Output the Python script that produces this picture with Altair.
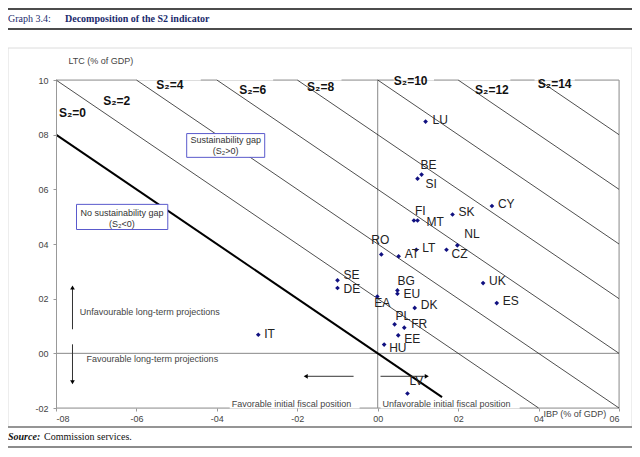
import altair as alt
import pandas as pd

# ---------------- data ----------------
countries = ["LU", "BE", "SI", "CY", "SK", "FI", "MT", "NL", "RO", "AT", "LT", "CZ", "SE",
             "DE", "UK", "ES", "BG", "EU", "EA", "DK", "PL", "FR", "EE", "HU", "LV", "IT"]
ibp = [1.19, 1.09, 0.99, 2.84, 1.86, 0.90, 0.99, 1.98, 0.09, 0.52, 0.96, 1.71, -1.0,
       -1.0, 2.62, 2.96, 0.49, 0.49, -0.01, 0.92, 0.42, 0.66, 0.51, 0.16, 0.74, -2.97]
ltc = [8.48, 6.54, 6.39, 5.39, 5.08, 4.86, 4.86, 3.95, 3.62, 3.55, 3.79, 3.79, 2.67,
       2.39, 2.57, 1.84, 2.30, 2.18, 2.08, 1.66, 1.06, 0.94, 0.66, 0.32, -1.47, 0.68]

# label offsets in pixels (left edge of text, vertical centre) relative to the point
label_offsets = {
    "LU": (7, -2), "BE": (-1, -10), "SI": (8, 5), "CY": (6, -2), "SK": (6, -2),
    "FI": (1, -9), "MT": (9, 2), "NL": (7, -11), "RO": (-10, -14), "AT": (6, -2),
    "LT": (6, -2), "CZ": (5, 4), "SE": (6, -5), "DE": (6, 1), "UK": (6, -2),
    "ES": (6, -2), "BG": (0, -9), "EU": (6, 0), "EA": (-3, 7), "DK": (6, -3),
    "PL": (1, -8), "FR": (7, -4), "EE": (6, 4), "HU": (5, 3), "LV": (2, -13),
    "IT": (6, -1),
}

# iso-S2 lines: IBP + LTC = S2
s2_levels = [2, 4, 6, 8, 10, 12, 14]
s2_zero_end = 1.6          # bold S2=0 line stops here on the x axis
x_min, x_max = -8, 6
y_min, y_max = -2, 10

s2_label_levels = [0, 2, 4, 6, 8, 10, 12, 14]
s2_label_x = [-7.59, -6.49, -5.17, -3.11, -1.42, 0.82, 2.84, 4.40]
s2_label_y = [8.78, 9.25, 9.80, 9.65, 9.73, 9.95, 9.62, 9.84]

top_segments = [(-8, -6), (-4.4, -4), (-2.6, -2), (-0.9, 0.4), (1.4, 2), (3.3, 3.9), (4.9, 6)]
bottom_segments = [(-8, -3.68), (-0.45, 0.07), (3.53, 6)]

x_ticks = [-8, -6, -4, -2, 0, 2, 4, 6]
y_ticks = [-2, 0, 2, 4, 6, 8, 10]

FONT = "Liberation Sans"
SERIF = "Liberation Serif"

# ---------------- scales / axes ----------------
xs = alt.Scale(domain=[x_min, x_max], nice=False, zero=False)
ys = alt.Scale(domain=[y_min, y_max], nice=False, zero=False)

lab = ("datum.value < 0 ? '-0' + abs(datum.value) : "
       "(datum.value < 10 ? '0' + datum.value : '' + datum.value)")

AX = alt.Axis(values=x_ticks, labelExpr=lab, title=None, domain=False,
              ticks=True, tickSize=3, tickColor="#999", labelPadding=3,
              labelFont=FONT, labelFontSize=9, labelColor="#444", grid=False, zindex=1)
AY = alt.Axis(values=y_ticks, labelExpr=lab, title=None, domain=True,
              domainColor="#999", ticks=True, tickSize=3, tickColor="#999",
              labelPadding=5, labelFont=FONT, labelFontSize=9,
              labelColor="#444", grid=False, zindex=1)

X = lambda f: alt.X(f, type="quantitative", scale=xs, axis=AX)
Y = lambda f: alt.Y(f, type="quantitative", scale=ys, axis=AY)

layers = []

# outer light frame
frame = alt.Chart(pd.DataFrame({"a": [0]})).mark_rect(
    filled=False, stroke="#dcdcdc", strokeWidth=1
).encode(x=alt.value(-48), x2=alt.value(576), y=alt.value(-32), y2=alt.value(347))
layers.append(frame)

# axes carrier
layers.append(alt.Chart(pd.DataFrame({"x": [x_min, x_max], "y": [y_min, y_max]})).mark_point(
    opacity=0).encode(x=X("x"), y=Y("y")))

# frame lines
top_df = pd.DataFrame({"x1": [a for a, b in top_segments], "x2": [b for a, b in top_segments],
                       "y": [y_max] * len(top_segments)})
layers.append(alt.Chart(top_df).mark_rule(color="#999", strokeWidth=1).encode(
    x=X("x1"), x2="x2", y=Y("y")))
bot_df = pd.DataFrame({"x1": [a for a, b in bottom_segments], "x2": [b for a, b in bottom_segments],
                       "y": [y_min] * len(bottom_segments)})
layers.append(alt.Chart(bot_df).mark_rule(color="#999", strokeWidth=1).encode(
    x=X("x1"), x2="x2", y=Y("y")))
layers.append(alt.Chart(pd.DataFrame({"x": [x_max], "y1": [y_min], "y2": [y_max]})).mark_rule(
    color="#999", strokeWidth=1).encode(x=X("x"), y=Y("y1"), y2="y2"))
# zero lines
layers.append(alt.Chart(pd.DataFrame({"x": [0], "y1": [y_min], "y2": [y_max]})).mark_rule(
    color="#888", strokeWidth=1).encode(x=X("x"), y=Y("y1"), y2="y2"))
layers.append(alt.Chart(pd.DataFrame({"x1": [x_min], "x2": [x_max], "y": [0]})).mark_rule(
    color="#888", strokeWidth=1).encode(x=X("x1"), x2="x2", y=Y("y")))

# iso-S2 thin lines
rows = []
for k in s2_levels:
    xa = max(x_min, k - y_max)
    xb = min(x_max, k - y_min)
    rows.append({"x1": xa, "y1": k - xa, "x2": xb, "y2": k - xb})
layers.append(alt.Chart(pd.DataFrame(rows)).mark_rule(color="#222", strokeWidth=0.8).encode(
    x=X("x1"), y=Y("y1"), x2="x2", y2="y2"))
# bold S2 = 0
layers.append(alt.Chart(pd.DataFrame({"x1": [x_min], "y1": [-x_min], "x2": [s2_zero_end],
                                      "y2": [-s2_zero_end]})).mark_rule(
    color="#000", strokeWidth=2).encode(x=X("x1"), y=Y("y1"), x2="x2", y2="y2"))

# S2 labels
s2_df = pd.DataFrame({"x": s2_label_x, "y": s2_label_y,
                      "t": ["S\u2082=" + str(k) for k in s2_label_levels]})
layers.append(alt.Chart(s2_df).mark_text(font=FONT, fontSize=12, fontWeight="bold", color="#111",
                                         align="center", baseline="middle").encode(
    x=X("x"), y=Y("y"), text="t:N"))

# annotation boxes
boxes = pd.DataFrame({"x1": [-4.75, -7.49], "x2": [-2.81, -5.22],
                      "y1": [7.17, 4.53], "y2": [8.04, 5.45]})
layers.append(alt.Chart(boxes).mark_rect(fill="white", stroke="#5a5acc", strokeWidth=1).encode(
    x=X("x1"), x2="x2", y=Y("y1"), y2="y2"))
box_text = pd.DataFrame({
    "x": [-3.78, -3.78, -6.36, -6.36],
    "y": [7.80, 7.42, 5.12, 4.72],
    "t": ["Sustainability gap", "(S\u2082>0)", "No sustainability gap", "(S\u2082<0)"],
})
layers.append(alt.Chart(box_text).mark_text(font=FONT, fontSize=9, color="#333",
                                            align="center", baseline="middle").encode(
    x=X("x"), y=Y("y"), text="t:N"))

# direction annotations
ann = pd.DataFrame({
    "x": [-7.41, -7.24, -3.63, 0.12, 4.12, -7.69],
    "y": [1.50, -0.22, -1.86, -1.86, -2.23, 10.71],
    "t": ["Unfavourable long-term projections", "Favourable long-term projections",
          "Favorable initial fiscal position", "Unfavorable initial fiscal position",
          "IBP (% of GDP)", "LTC (% of GDP)"],
})
layers.append(alt.Chart(ann).mark_text(font=FONT, fontSize=9, color="#444",
                                       align="left", baseline="middle").encode(
    x=X("x"), y=Y("y"), text="t:N"))

# arrows
vr = pd.DataFrame({"x": [-7.59, -7.59], "y1": [0.88, 0.33], "y2": [2.41, -1.06]})
layers.append(alt.Chart(vr).mark_rule(color="#333", strokeWidth=1).encode(
    x=X("x"), y=Y("y1"), y2="y2"))
hr = pd.DataFrame({"x1": [-0.6, 0.07], "x2": [-1.79, 1.22], "y": [-0.84, -0.84]})
layers.append(alt.Chart(hr).mark_rule(color="#333", strokeWidth=1).encode(
    x=X("x1"), x2="x2", y=Y("y")))
heads = pd.DataFrame({"x": [-7.59, -7.59, -1.79, 1.22], "y": [2.41, -1.06, -0.84, -0.84],
                      "s": ["triangle-up", "triangle-down", "triangle-left", "triangle-right"]})
for shp in heads["s"]:
    layers.append(alt.Chart(heads[heads["s"] == shp]).mark_point(
        shape=shp, filled=True, color="#000", size=22, opacity=1).encode(x=X("x"), y=Y("y")))

# country points
pts = pd.DataFrame({"country": countries, "ibp": ibp, "ltc": ltc})
layers.append(alt.Chart(pts).mark_point(shape="diamond", filled=True, color="#101080",
                                        size=22, opacity=1).encode(
    x=X("ibp"), y=Y("ltc"), tooltip=["country", "ibp", "ltc"]))

# country labels, grouped by offset
groups = {}
for c in countries:
    groups.setdefault(label_offsets[c], []).append(c)
for (dx, dy), cs in groups.items():
    layers.append(alt.Chart(pts).transform_filter(
        alt.FieldOneOfPredicate(field="country", oneOf=cs)).mark_text(
        font=FONT, fontSize=12, color="#222", align="left", baseline="middle", dx=dx, dy=dy).encode(
        x=X("ibp"), y=Y("ltc"), text="country:N"))

# header and source rules
for yv in [-71, -51]:
    layers.append(alt.Chart(pd.DataFrame({"a": [0]})).mark_rule(color="#111", strokeWidth=1.5).encode(
        x=alt.value(-48), x2=alt.value(576), y=alt.value(yv)))
layers.append(alt.Chart(pd.DataFrame({"a": [0]})).mark_rule(color="#777", strokeWidth=1.5).encode(
    x=alt.value(-48), x2=alt.value(576), y=alt.value(347)))
layers.append(alt.Chart(pd.DataFrame({"a": [0]})).mark_rule(color="#666", strokeWidth=1.5).encode(
    x=alt.value(-48), x2=alt.value(576), y=alt.value(367)))

layers.append(alt.Chart(pd.DataFrame({"t": ["Graph 3.4:"]})).mark_text(
    font=SERIF, fontSize=10, color="#1a2a6c", align="left", baseline="middle").encode(
    x=alt.value(-48), y=alt.value(-61), text="t:N"))
layers.append(alt.Chart(pd.DataFrame({"t": ["Decomposition of the S2 indicator"]})).mark_text(
    font=SERIF, fontSize=10, fontWeight="bold", color="#1a2a6c", align="left", baseline="middle").encode(
    x=alt.value(9), y=alt.value(-61), text="t:N"))
layers.append(alt.Chart(pd.DataFrame({"t": ["Source:"]})).mark_text(
    font=SERIF, fontSize=10, fontWeight="bold", fontStyle="italic", color="#111", align="left",
    baseline="middle").encode(x=alt.value(-48), y=alt.value(357), text="t:N"))
layers.append(alt.Chart(pd.DataFrame({"t": ["Commission services."]})).mark_text(
    font=SERIF, fontSize=10, color="#111", align="left", baseline="middle").encode(
    x=alt.value(-12), y=alt.value(357), text="t:N"))

chart = alt.layer(*layers).properties(
    width=563, height=328,
    padding={"left": 48, "top": 72, "right": 13, "bottom": 41},
    autosize=alt.AutoSizeParams(type="none"),
).configure_view(stroke=None).configure(background="white")

chart.save("out.html", embed_options={"renderer": "svg", "actions": False})
